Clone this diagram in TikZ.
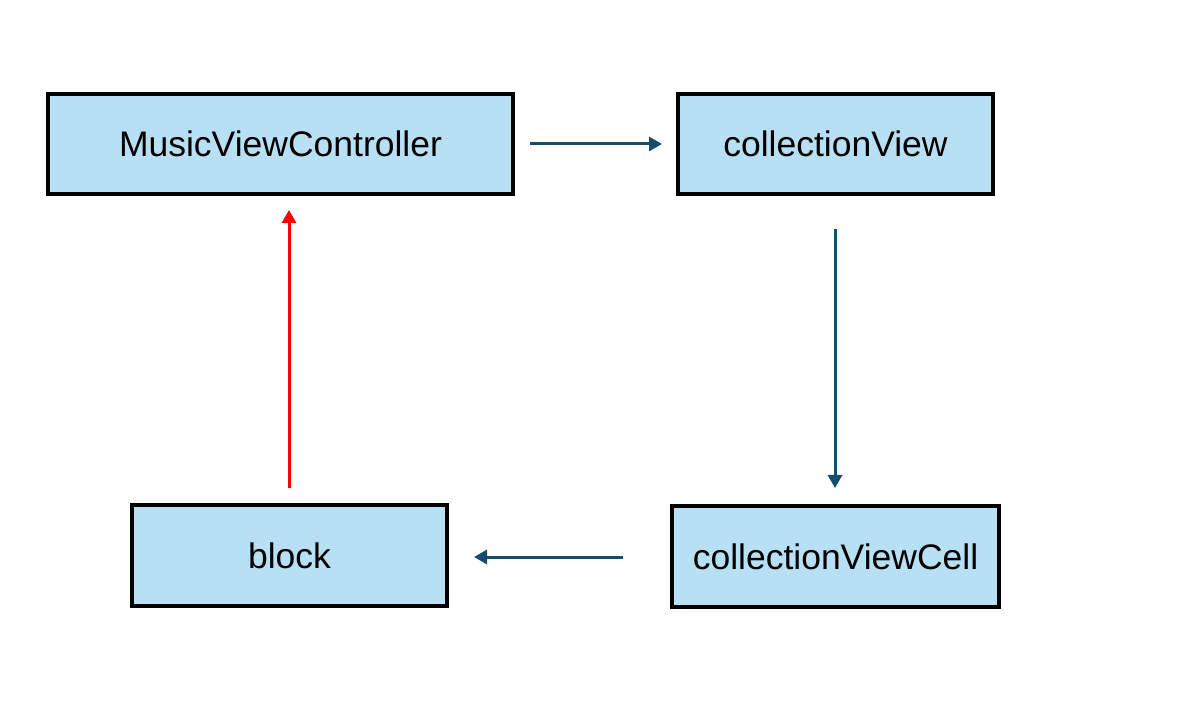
\documentclass[tikz,border=0pt]{standalone}
\usepackage{fontspec}
\setmainfont{Liberation Sans}
\usetikzlibrary{arrows.meta}
\definecolor{boxfill}{RGB}{184,224,244}
\definecolor{arrowblue}{RGB}{22,76,110}
\begin{document}
\begin{tikzpicture}[x=1pt,y=-1pt,
  box/.style={draw=black,line width=3.2pt,fill=boxfill,inner sep=0pt,
    font=\fontsize{35.5}{42}\selectfont},
  conn/.style={draw=arrowblue,line width=3pt,-{Triangle[length=13pt,width=14pt]}},
  redconn/.style={draw=red,line width=3pt,-{Triangle[length=13pt,width=14pt]}}]
\useasboundingbox (0,0) rectangle (1184,708);
\node[box,minimum width=465pt,minimum height=100pt] (mvc) at (280.5,144) {MusicViewController};
\node[box,minimum width=315pt,minimum height=100pt] (cv) at (835.5,144) {collectionView};
\node[box,minimum width=315pt,minimum height=101pt] (blk) at (289.5,555.5) {block};
\node[box,minimum width=327pt,minimum height=101pt] (cvc) at (835.5,556.5) {collectionViewCell};
\coordinate (a1) at (530,144);
\coordinate (a2) at (662,144);
\coordinate (b1) at (835,229);
\coordinate (b2) at (835,488);
\coordinate (c1) at (623,557);
\coordinate (c2) at (474,557);
\coordinate (d1) at (289,488);
\coordinate (d2) at (289,210);
\draw[conn] (a1) -- (a2);
\draw[conn] (b1) -- (b2);
\draw[conn] (c1) -- (c2);
\draw[redconn] (d1) -- (d2);
\end{tikzpicture}
\end{document}
